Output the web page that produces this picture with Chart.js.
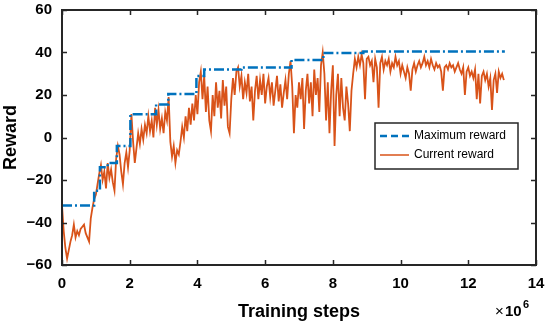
<!DOCTYPE html>
<html>
<head>
<meta charset="utf-8">
<script src="https://cdn.jsdelivr.net/npm/chart.js@4/dist/chart.umd.min.js"></script>
<style>
  html, body { margin: 0; padding: 0; background: #fff; }
  #wrap { width: 550px; height: 323px; }
</style>
</head>
<body>
<div id="wrap"><canvas id="chart" width="550" height="323"></canvas></div>
<script>
// training steps (x1e6) where the max reward changes, and the max reward values
const maxSteps = [0, 0.95, 1.12, 1.35, 1.62, 2.02, 2.78, 3.14, 3.97, 4.2, 5.3, 6.78, 7.72, 8.9, 13.08];
const maxReward = [-32, -25, -14, -12, -4, 11, 15.5, 20.5, 29, 32, 33, 36.5, 39.8, 40.5, 40.5];

// current reward, sampled every 0.05e6 steps
const stepSize = 0.05;
const currentReward = [
  -32, -44, -52, -57, -53, -49, -46, -41, -47, -44, -46, -43, -42, -41, -45, -47, -49, -38, -33, -29, -27,
  -22, -17, -13, -20, -16, -24, -12, -19, -15, -21, -25, -10, -4, -8, -16, -22, -12, -7, -14, -6,
  11, -2, -12, -5, 2, -3, 4, -1, 6, 2, 10, 3, 8, 0, 14, 6, 13, 4, 9, 2,
  12, 8, 19, -2, -9, -4, -12, -6, -8, -2, 5, 0, 10, 3, 14, 6, 16, 8, 20, 11,
  26, 31, 18, 29, 12, 24, 8, 3, 20, 10, 26, 14, 22, 9, 27, 15, 24, 5, 2, 18,
  28, 20, 31, 33, 24, 29, 18, 26, 21, 30, 17, 24, 8, 22, 29, 18, 27, 20, 30, 16,
  24, 28, 19, 26, 15, 22, 29, 17, 25, 14, 21, 27, 18, 30, 36, 24, 2, 20, 14, 26,
  18, 28, 4, 22, 30, 16, 26, 10, 32, 20, 28, 12, 34, 40, 30, 8, 26, 2, 22, 34,
  -4, 20, 30, 10, 28, 14, 8, 24, 16, 3, 22, 30, 37, 33, 38, 34, 39, 35, 18, 37,
  38, 34, 36, 26, 37, 33, 14, 35, 38, 32, 36, 34, 37, 31, 35, 33, 38, 34, 36, 30,
  34, 31, 28, 33, 30, 22, 32, 35, 31, 34, 36, 33, 35, 38, 34, 36, 33, 37, 34, 32,
  35, 33, 34, 31, 22, 33, 34, 32, 35, 33, 34, 31, 33, 35, 32, 30, 33, 20, 31, 33,
  29, 31, 28, 32, 18, 30, 16, 29, 31, 27, 30, 24, 28, 13, 27, 30, 21, 31, 28, 30, 27
];

const xTicks = [0, 2, 4, 6, 8, 10, 12, 14];
const yTicks = [-60, -40, -20, 0, 20, 40, 60];

const blue = "#0072BD";
const orange = "#D95319";
const ink = "#262626";

const maxData = maxSteps.map((x, i) => ({ x, y: maxReward[i] }));
const curData = currentReward.map((y, i) => ({ x: +(i * stepSize).toFixed(2), y }));

// === frame, inward ticks and legend ===
const framePlugin = {
  id: "frame",
  afterDraw(chart) {
    const { ctx, chartArea: a, scales } = chart;
    const tl = 5;
    ctx.save();
    ctx.strokeStyle = ink;
    ctx.lineWidth = 1.5;
    ctx.beginPath();
    xTicks.forEach(v => {
      const px = Math.round(scales.x.getPixelForValue(v)) + 0.5;
      ctx.moveTo(px, a.bottom); ctx.lineTo(px, a.bottom - tl);
      ctx.moveTo(px, a.top); ctx.lineTo(px, a.top + tl);
    });
    yTicks.forEach(v => {
      const py = Math.round(scales.y.getPixelForValue(v)) + 0.5;
      ctx.moveTo(a.left, py); ctx.lineTo(a.left + tl, py);
      ctx.moveTo(a.right, py); ctx.lineTo(a.right - tl, py);
    });
    ctx.stroke();
    ctx.lineWidth = 2;
    ctx.strokeRect(a.left, a.top, a.right - a.left, a.bottom - a.top);

    // legend
    const lx = 375, ly = 123, lw = 143, lh = 46;
    ctx.fillStyle = "#fff";
    ctx.fillRect(lx, ly, lw, lh);
    ctx.lineWidth = 1.5;
    ctx.strokeStyle = ink;
    ctx.strokeRect(lx, ly, lw, lh);
    ctx.lineWidth = 2.5;
    ctx.strokeStyle = blue;
    ctx.setLineDash([7, 4]);
    ctx.beginPath(); ctx.moveTo(380, 136); ctx.lineTo(409, 136); ctx.stroke();
    ctx.setLineDash([]);
    ctx.lineWidth = 1.5;
    ctx.strokeStyle = orange;
    ctx.beginPath(); ctx.moveTo(380, 155); ctx.lineTo(409, 155); ctx.stroke();
    ctx.fillStyle = "#000";
    ctx.font = "12px 'Liberation Sans', Arial, sans-serif";
    ctx.textBaseline = "middle";
    ctx.fillText("Maximum reward", 414, 136);
    ctx.fillText("Current reward", 414, 155);

    // x10^6 multiplier
    ctx.textBaseline = "alphabetic";
    ctx.fillStyle = "#000";
    ctx.font = "15px 'Liberation Sans', Arial, sans-serif";
    ctx.fillText("\u00d7", 495, 316);
    ctx.font = "bold 15px 'Liberation Sans', Arial, sans-serif";
    ctx.fillText("10", 505, 316);
    ctx.font = "bold 11px 'Liberation Sans', Arial, sans-serif";
    ctx.fillText("6", 523, 308);
    ctx.restore();
  }
};

const tickFont = { family: "'Liberation Sans', Arial, sans-serif", size: 15, weight: "bold" };
const titleFont = { family: "'Liberation Sans', Arial, sans-serif", size: 18, weight: "bold" };

new Chart(document.getElementById("chart"), {
  type: "line",
  data: {
    datasets: [
      {
        label: "Current reward",
        data: curData,
        borderColor: orange,
        borderWidth: 1.8,
        pointRadius: 0,
        tension: 0,
        order: 2
      },
      {
        label: "Maximum reward",
        data: maxData,
        borderColor: blue,
        borderWidth: 2.5,
        borderDash: [10, 3, 2, 3],
        stepped: "before",
        pointRadius: 0,
        order: 1
      }
    ]
  },
  options: {
    responsive: false,
    animation: false,
    devicePixelRatio: 1,
    layout: { padding: { top: 10, right: 14, left: 0, bottom: 0 } },
    plugins: { legend: { display: false }, tooltip: { enabled: false } },
    scales: {
      x: {
        type: "linear",
        min: 0,
        max: 14,
        afterBuildTicks: s => { s.ticks = xTicks.map(v => ({ value: v })); },
        afterFit: s => { s.height = 58; s.paddingLeft = 0; s.paddingRight = 0; },
        grid: { display: false, drawTicks: false },
        border: { display: false },
        ticks: { color: "#000", font: tickFont, padding: 10, maxRotation: 0 },
        title: { display: true, text: "Training steps", color: "#000", font: titleFont, padding: { top: 0, bottom: 0 } }
      },
      y: {
        type: "linear",
        min: -60,
        max: 60,
        afterBuildTicks: s => { s.ticks = yTicks.map(v => ({ value: v })); },
        afterFit: s => { s.width = 62; s.paddingTop = 0; s.paddingBottom = 0; },
        grid: { display: false, drawTicks: false },
        border: { display: false },
        ticks: {
          color: "#000",
          font: tickFont,
          padding: 10,
          callback: v => String(v).replace("-", "\u2212")
        },
        title: { display: true, text: "Reward", color: "#000", font: titleFont, padding: { top: 0, bottom: 0 } }
      }
    }
  },
  plugins: [framePlugin]
});
</script>
</body>
</html>
